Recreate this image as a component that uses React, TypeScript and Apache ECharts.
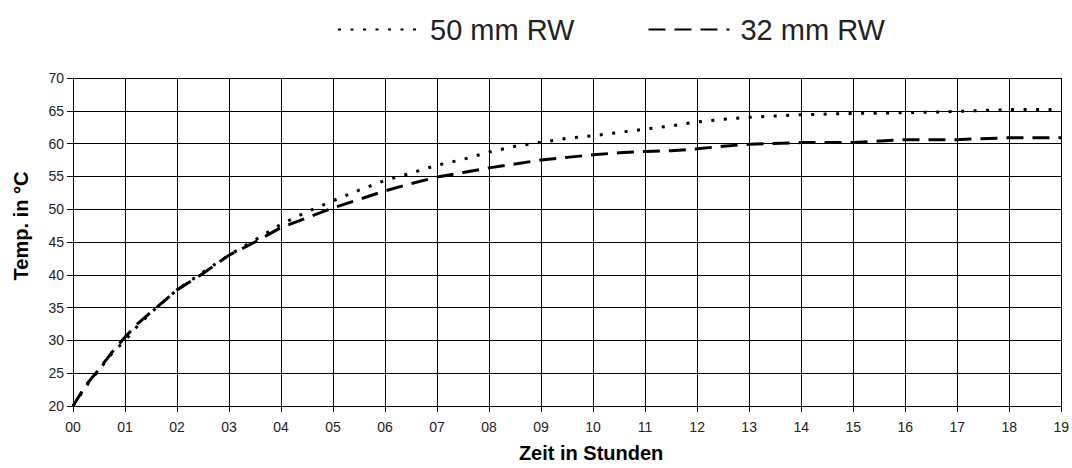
import React, { useEffect, useRef } from "react";
import * as echarts from "echarts";

const hours = [0, 0.25, 0.5, 0.75, 1, 1.25, 1.5, 1.75, 2, 2.5, 3, 3.5, 4, 4.5, 5, 5.5, 6, 6.5, 7, 7.5, 8, 8.5, 9, 9.5, 10, 10.5, 11, 11.5, 12, 12.5, 13, 14, 15, 16, 17, 18, 19];
const rw50 = [20, 23, 25.5, 28, 30, 32.3, 34.2, 36, 37.7, 40.4, 43, 45.3, 47.7, 49.6, 51.3, 52.9, 54.4, 55.5, 56.7, 57.6, 58.7, 59.6, 60.2, 60.8, 61.2, 61.7, 62.2, 62.7, 63.3, 63.7, 64.0, 64.4, 64.6, 64.7, 64.9, 65.2, 65.2];
const rw32 = [20, 23.2, 25.6, 28.2, 30.5, 32.6, 34.3, 36, 37.7, 40.2, 43, 45, 47.2, 48.7, 50.2, 51.5, 52.8, 53.9, 54.9, 55.6, 56.3, 56.9, 57.5, 57.9, 58.3, 58.6, 58.8, 58.9, 59.2, 59.6, 59.9, 60.15, 60.15, 60.6, 60.6, 60.9, 60.9];
const seriesNames = ["50 mm RW", "32 mm RW"];

const FONT = "'Liberation Sans', Arial, sans-serif";

export default function App() {
  const ref = useRef<HTMLDivElement>(null);
  useEffect(() => {
    if (!ref.current) return;
    const chart = echarts.init(ref.current, undefined, { renderer: "svg" });
    const pair = (arr: number[]) => hours.map((h, i) => [h, arr[i]]);
    chart.setOption({
      animation: false,
      backgroundColor: "#fff",
      textStyle: { fontFamily: FONT },
      legend: {
        left: 332,
        top: 10,
        itemWidth: 81,
        itemHeight: 14,
        itemGap: 73,
        itemStyle: { opacity: 0, borderWidth: 0 },
        textStyle: { fontSize: 29, color: "#222", fontFamily: FONT, padding: [0, 0, 0, 6] },
        data: seriesNames,
      },
      grid: { left: 73, right: 10, top: 78, bottom: 59, containLabel: false },
      xAxis: {
        type: "value",
        min: 0,
        max: 19,
        interval: 1,
        name: "Zeit in Stunden",
        nameLocation: "middle",
        nameGap: 37,
        nameTextStyle: { fontSize: 20, fontWeight: "bold", color: "#000", fontFamily: FONT, padding: [0, 0, 0, 48] },
        axisLine: { show: true, lineStyle: { color: "#000", width: 1 } },
        axisTick: { show: true, length: 6, lineStyle: { color: "#000" } },
        axisLabel: {
          fontSize: 14,
          color: "#222",
          margin: 14,
          formatter: (v: number) => String(v).padStart(2, "0"),
        },
        splitLine: { show: true, lineStyle: { color: "#000", width: 1 } },
      },
      yAxis: {
        type: "value",
        min: 20,
        max: 70,
        interval: 5,
        name: "Temp. in °C",
        nameLocation: "middle",
        nameGap: 42,
        nameTextStyle: { fontSize: 20, fontWeight: "bold", color: "#000", fontFamily: FONT, padding: [0, 0, 0, 32] },
        axisLine: { show: true, lineStyle: { color: "#000", width: 1 } },
        axisTick: { show: true, length: 6, lineStyle: { color: "#000" } },
        axisLabel: { fontSize: 14, color: "#222", margin: 9 },
        splitLine: { show: true, lineStyle: { color: "#000", width: 1 } },
      },
      series: [
        {
          name: seriesNames[0],
          type: "line",
          data: pair(rw50),
          symbol: "none",
          lineStyle: { color: "#000", width: 3, type: [3, 9.5] },
          itemStyle: { color: "#000" },
          z: 3,
        },
        {
          name: seriesNames[1],
          type: "line",
          data: pair(rw32),
          symbol: "none",
          lineStyle: { color: "#000", width: 3, type: [17, 9] },
          itemStyle: { color: "#000" },
          z: 4,
        },
      ],
    });
    return () => chart.dispose();
  }, []);
  return <div ref={ref} style={{ position: "fixed", left: 0, top: 0, width: 1072, height: 468 }} />;
}
